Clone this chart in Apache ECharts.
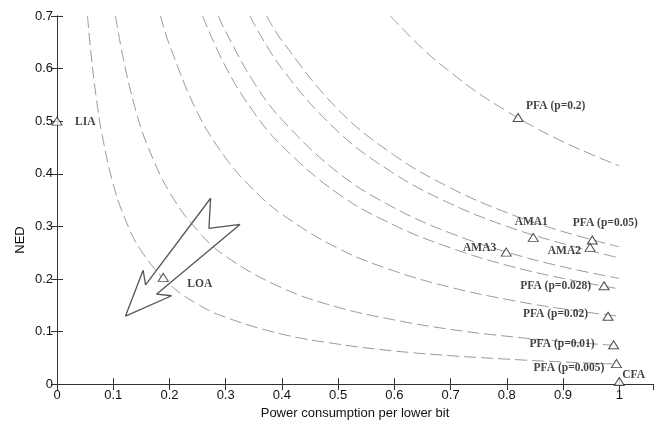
<!DOCTYPE html>
<html>
<head>
<meta charset="utf-8">
<script src="https://cdn.jsdelivr.net/npm/echarts@6/dist/echarts.min.js"></script>
<style>
  html, body { margin: 0; padding: 0; background: #fff; }
  #chart { width: 663px; height: 425px; }
</style>
</head>
<body>
<div id="chart"></div>
<script>
// dashed iso-curves, [x, y]
const curveLOA = [[0.0543, 0.70], [0.06, 0.633], [0.07, 0.543], [0.08, 0.475], [0.1, 0.38], [0.12, 0.317], [0.15, 0.253], [0.2, 0.19], [0.25, 0.152], [0.3, 0.127], [0.4, 0.095], [0.5, 0.076], [0.6, 0.063], [0.7, 0.054], [0.8, 0.0475], [0.9, 0.042], [1.0, 0.038]];
const curveP01 = [[0.104, 0.70], [0.12, 0.608], [0.14, 0.521], [0.16, 0.456], [0.2, 0.365], [0.25, 0.292], [0.3, 0.243], [0.4, 0.183], [0.5, 0.146], [0.6, 0.122], [0.7, 0.104], [0.8, 0.091], [0.9, 0.081], [1.0, 0.073]];
const curveP02 = [[0.184, 0.70], [0.2, 0.645], [0.25, 0.516], [0.3, 0.43], [0.35, 0.369], [0.4, 0.323], [0.5, 0.258], [0.6, 0.215], [0.7, 0.184], [0.8, 0.161], [0.9, 0.143], [1.0, 0.129]];
const curveP028 = [[0.259, 0.70], [0.3, 0.603], [0.35, 0.517], [0.4, 0.453], [0.5, 0.362], [0.6, 0.302], [0.7, 0.259], [0.8, 0.226], [0.9, 0.201], [1.0, 0.181]];
const curveAMA3 = [[0.287, 0.70], [0.3, 0.67], [0.35, 0.574], [0.4, 0.503], [0.5, 0.402], [0.6, 0.335], [0.7, 0.287], [0.8, 0.251], [0.9, 0.223], [1.0, 0.201]];
const curveAMA1 = [[0.343, 0.70], [0.4, 0.60], [0.5, 0.48], [0.6, 0.40], [0.7, 0.343], [0.8, 0.30], [0.9, 0.267], [1.0, 0.24]];
const curveP05 = [[0.373, 0.70], [0.4, 0.653], [0.5, 0.522], [0.6, 0.435], [0.7, 0.373], [0.8, 0.326], [0.9, 0.29], [1.0, 0.261]];
const curveP2 = [[0.593, 0.70], [0.65, 0.638], [0.7, 0.593], [0.75, 0.553], [0.8, 0.519], [0.85, 0.488], [0.9, 0.461], [0.95, 0.437], [1.0, 0.415]];

// design points
const pointNames = ['LIA', 'LOA', 'PFA (p=0.2)', 'AMA1', 'PFA (p=0.05)', 'AMA2', 'AMA3', 'PFA (p=0.028)', 'PFA (p=0.02)', 'PFA (p=0.01)', 'PFA (p=0.005)', 'CFA'];
const pointX = [0, 0.189, 0.82, 0.847, 0.952, 0.948, 0.799, 0.973, 0.98, 0.99, 0.995, 1.0];
const pointY = [0.5, 0.203, 0.507, 0.279, 0.274, 0.26, 0.251, 0.187, 0.129, 0.0747, 0.039, 0.005];

// hollow arrow outline (closed)
const arrowX = [0.1218, 0.1532, 0.1575, 0.2732, 0.2702, 0.3254, 0.177, 0.2038, 0.1218];
const arrowY = [0.1294, 0.2165, 0.1885, 0.3534, 0.2962, 0.3036, 0.171, 0.168, 0.1294];

const xTicks = ['0', '0.1', '0.2', '0.3', '0.4', '0.5', '0.6', '0.7', '0.8', '0.9', '1'];

// label placement per point
const labelPlace = {
  'LIA': ['left', [18, 1]],
  'LOA': ['left', [24, 7]],
  'PFA (p=0.2)': ['left', [8, -11]],
  'AMA1': ['center', [-2, -15]],
  'PFA (p=0.05)': ['center', [13, -17]],
  'AMA2': ['right', [-9, 4]],
  'AMA3': ['right', [-10, -4]],
  'PFA (p=0.028)': ['right', [-13, 0]],
  'PFA (p=0.02)': ['right', [-20, -2]],
  'PFA (p=0.01)': ['right', [-19, -1]],
  'PFA (p=0.005)': ['right', [-12, 4]],
  'CFA': ['left', [3, -6]]
};

const chart = echarts.init(document.getElementById('chart'));

const curves = [curveLOA, curveP01, curveP02, curveP028, curveAMA3, curveAMA1, curveP05, curveP2];
const curveSeries = curves.map((c, i) => ({
  name: 'curve' + i,
  type: 'line',
  data: c,
  smooth: 0.4,
  symbol: 'none',
  silent: true,
  lineStyle: { color: '#9a9a9a', width: 1, type: [12, 5] },
  z: 2
}));

const axisCommon = {
  type: 'value',
  axisLine: { show: true, lineStyle: { color: '#333', width: 1 } },
  axisTick: { show: true, inside: true, length: 6, lineStyle: { color: '#333' } },
  splitLine: { show: false }
};

const option = {
  backgroundColor: '#fff',
  animation: false,
  textStyle: { fontFamily: 'Liberation Sans, Arial, sans-serif' },
  grid: { left: 57, right: 10, top: 16, bottom: 34 },
  xAxis: [
    Object.assign({}, axisCommon, {
      position: 'bottom',
      min: 0, max: 1.06, interval: 0.1,
      name: 'Power consumption per lower bit',
      nameLocation: 'middle',
      nameGap: 20,
      nameTextStyle: { fontSize: 13, color: '#111' },
      axisLabel: {
        fontSize: 13, color: '#111', margin: 5, showMaxLabel: false,
        formatter: (v) => {
          const i = Math.round(v * 10);
          return Math.abs(v * 10 - i) < 1e-6 && i <= 10 ? xTicks[i] : '';
        }
      }
    }),
    Object.assign({}, axisCommon, {
      position: 'top',
      min: 0, max: 1.06, interval: 0.1,
      axisLabel: { show: false }
    })
  ],
  yAxis: [
    Object.assign({}, axisCommon, {
      position: 'left',
      min: 0, max: 0.7, interval: 0.1,
      axisLabel: { fontSize: 13, color: '#111', margin: 4 }
    }),
    Object.assign({}, axisCommon, {
      position: 'right',
      min: 0, max: 0.7, interval: 0.1,
      axisLabel: { show: false }
    })
  ],
  graphic: [{
    type: 'text',
    x: 20, y: 240,
    rotation: Math.PI / 2,
    style: {
      text: 'NED',
      fill: '#111',
      font: '13px "Liberation Sans", Arial, sans-serif',
      textAlign: 'center',
      textVerticalAlign: 'middle'
    }
  }],
  series: curveSeries.concat([
    {
      name: 'arrow',
      type: 'line',
      data: arrowX.map((x, i) => [x, arrowY[i]]),
      symbol: 'none',
      silent: true,
      lineStyle: { color: '#555', width: 1.3 },
      z: 3
    },
    {
      name: 'points',
      type: 'scatter',
      symbol: 'triangle',
      symbolSize: [10, 8],
      clip: false,
      itemStyle: { color: '#fff', borderColor: '#222', borderWidth: 1 },
      data: pointNames.map((n, i) => ({
        name: n,
        value: [pointX[i], pointY[i]],
        label: {
          show: true,
          position: 'inside',
          formatter: n,
          align: labelPlace[n][0],
          verticalAlign: 'middle',
          offset: labelPlace[n][1],
          fontFamily: 'Liberation Serif, Times New Roman, serif',
          fontWeight: 'bold',
          fontSize: 11.5,
          color: '#111'
        }
      })),
      z: 5
    }
  ])
};

chart.setOption(option);
</script>
</body>
</html>
